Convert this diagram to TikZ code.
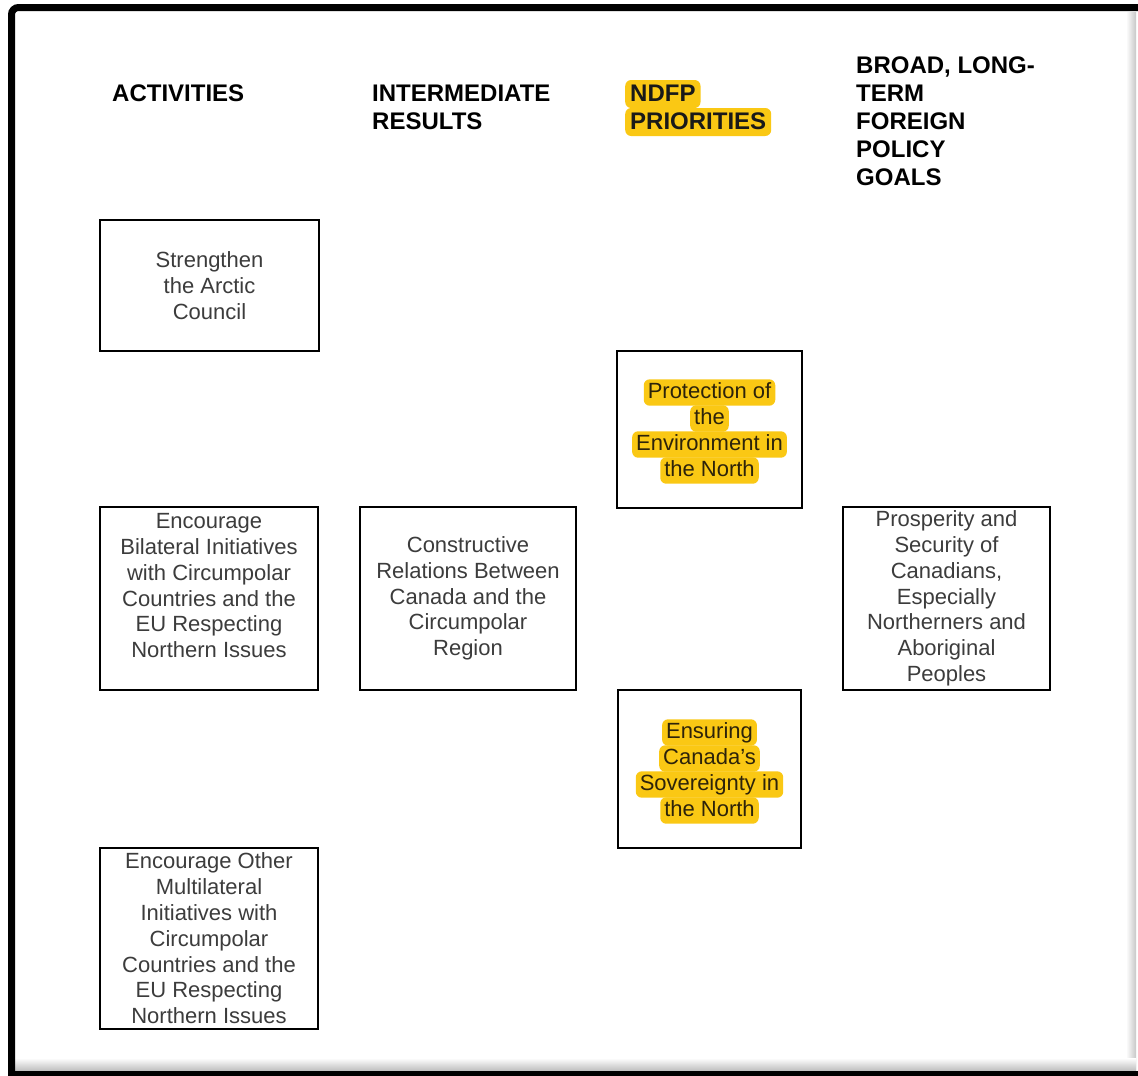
\documentclass[tikz,border=0pt]{standalone}
\usepackage{fontspec}
\setmainfont{Liberation Sans}
\definecolor{hlyellow}{RGB}{250,200,20}
\definecolor{boxtext}{RGB}{60,60,60}
\definecolor{hltext}{RGB}{45,35,10}
\begin{document}
\begin{tikzpicture}[x=1pt,y=-1pt,
  header/.style={anchor=base west,inner sep=0pt,font=\fontsize{24}{28}\selectfont\bfseries,text=black},
  hlheader/.style={anchor=base west,inner xsep=5pt,inner ysep=2pt,text height=19pt,text depth=5pt,
     fill=hlyellow,rounded corners=6pt,font=\fontsize{24}{28}\selectfont\bfseries,text=black!90},
  stepbox/.style={draw=black,line width=1.6pt,fill=white,inner sep=0pt,align=center,
     text=boxtext,font=\fontsize{22}{25.8}\selectfont},
  hlline/.style={fill=hlyellow,rounded corners=6pt,inner xsep=4pt,inner ysep=2.2pt,
     text height=16.5pt,text depth=5.5pt,text=hltext,font=\fontsize{22}{25.7}\selectfont}
]
\useasboundingbox (0,0) rectangle (1138,1076);
% frame
\fill[white] (0,0) rectangle (1138,1076);
\shade[left color=white,right color=black!22] (1126,12) rectangle (1136,1072);
\shade[top color=white,bottom color=black!28] (15,1058) rectangle (1136,1072);
\fill[black] (8,1071) rectangle (1138,1076);
\draw[line width=7pt,rounded corners=7pt] (11.5,1073) -- (11.5,7.5) -- (1138,7.5);

% headers
\node[header] (hA) at (112,101) {ACTIVITIES};
\node[header] (hI1) at (372,101) {INTERMEDIATE};
\node[header] (hI2) at (372,129) {RESULTS};
\node[hlheader] (hN2) at (625,129) {PRIORITIES};
\node[hlheader] (hN1) at (625,101) {NDFP};
\node[header] (hB1) at (856,73) {BROAD, LONG-};
\node[header] (hB2) at (856,101) {TERM};
\node[header] (hB3) at (856,129) {FOREIGN};
\node[header] (hB4) at (856,157) {POLICY};
\node[header] (hB5) at (856,185) {GOALS};

% activity boxes
\node[stepbox,minimum width=219pt,minimum height=131pt] (arctic) at (209.5,285.5)
  {Strengthen\\the Arctic\\Council};
\node[stepbox,minimum width=218pt,minimum height=183pt] (bilat) at (209,598.5)
  {Encourage\\Bilateral Initiatives\\with Circumpolar\\Countries and the\\EU Respecting\\Northern Issues\\\mbox{}};
\node[stepbox,minimum width=218pt,minimum height=181pt] (multi) at (209,938.5)
  {Encourage Other\\Multilateral\\Initiatives with\\Circumpolar\\Countries and the\\EU Respecting\\Northern Issues};

% intermediate
\node[stepbox,minimum width=216pt,minimum height=183pt] (constr) at (468,598.5)
  {Constructive\\Relations Between\\Canada and the\\Circumpolar\\Region};

% priorities
\node[stepbox,minimum width=185pt,minimum height=157pt] (envbox) at (709.5,429.5) {};
\node[hlline] (e1) at (709.5,392.5) {Protection of};
\node[hlline] (e2) at (709.5,418.5) {the};
\node[hlline] (e3) at (709.5,444.5) {Environment in};
\node[hlline] (e4) at (709.5,470.5) {the North};

\node[stepbox,minimum width=183pt,minimum height=158pt] (sovbox) at (709.5,769) {};
\node[hlline] (s1) at (709.5,732.5) {Ensuring};
\node[hlline] (s2) at (709.5,758.5) {Canada’s};
\node[hlline] (s3) at (709.5,784.5) {Sovereignty in};
\node[hlline] (s4) at (709.5,810.5) {the North};

% goals
\node[stepbox,minimum width=207pt,minimum height=183pt] (goal) at (946.5,598.5)
  {Prosperity and\\Security of\\Canadians,\\Especially\\Northerners and\\Aboriginal\\Peoples};
\end{tikzpicture}
\end{document}
